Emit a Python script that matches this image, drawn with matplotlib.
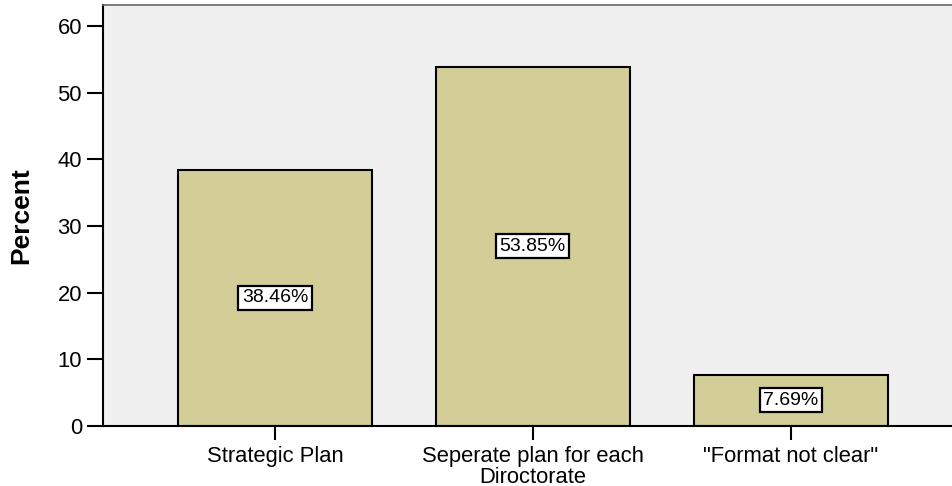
import matplotlib
matplotlib.use("Agg")
import matplotlib.pyplot as plt

categories = ["Strategic Plan", "Seperate plan for each\nDiroctorate", "\"Format not clear\""]
percents = [38.46, 53.85, 7.69]
y_ticks = [0, 10, 20, 30, 40, 50, 60]

plt.rcParams['font.family'] = ['Liberation Sans', 'DejaVu Sans']

fig = plt.figure(figsize=(9.53, 4.86), dpi=100)
W, H = 953, 486
left_px, right_px, top_px, bottom_px = 102.7, 963.0, 5.0, 425.7
ax = fig.add_axes([left_px / W, 1 - bottom_px / H,
                   (right_px - left_px) / W, (bottom_px - top_px) / H])
ax.set_facecolor('#F0F0F0')

x = list(range(len(categories)))
bars = ax.bar(x, percents, width=0.752, color='#D3CE98', edgecolor='black',
              linewidth=1.5, zorder=2)

for xi, v in zip(x, percents):
    ax.text(xi, v / 2, f"{v:.2f}%", ha='center', va='center', fontsize=14,
            zorder=3,
            bbox=dict(boxstyle='square,pad=0.18', facecolor='white',
                      edgecolor='black', linewidth=1.6))

ax.set_xlim(-0.668, 2.668)
ax.set_ylim(0, 63.2)
ax.set_yticks(y_ticks)
ax.set_xticks(x)
ax.set_xticklabels(categories, fontsize=15.8, linespacing=1.0)
ax.tick_params(axis='y', labelsize=15.8, length=11.3, width=1.5, pad=3.6)
ax.tick_params(axis='x', length=10, width=1.5, pad=4.5)

ax.set_ylabel('Percent', fontsize=19, fontweight='bold')
ax.yaxis.set_label_coords(-(left_px - 33) / (right_px - left_px), 0.5)

for side in ['left', 'bottom']:
    ax.spines[side].set_color('black')
    ax.spines[side].set_linewidth(1.5)
ax.spines['top'].set_color('#666666')
ax.spines['top'].set_linewidth(1.2)
ax.spines['right'].set_visible(False)

fig.savefig('out.png', dpi=100)
